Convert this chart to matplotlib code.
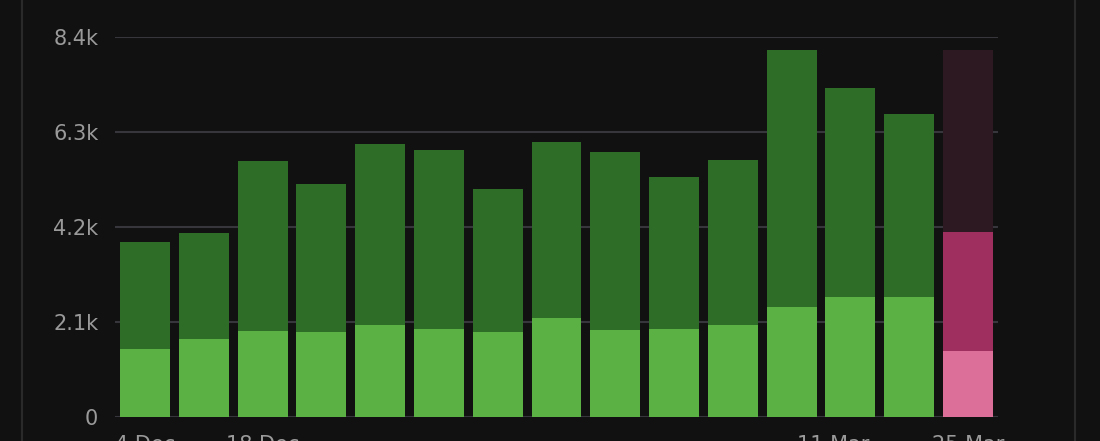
import matplotlib.pyplot as plt
import matplotlib.patches as mpatches

# values in thousands
light = [1.50, 1.72, 1.90, 1.88, 2.03, 1.95, 1.88, 2.19, 1.92, 1.95, 2.03, 2.43, 2.65, 2.65, 1.46]
total = [3.87, 4.07, 5.66, 5.15, 6.03, 5.90, 5.04, 6.08, 5.86, 5.30, 5.68, 8.11, 7.27, 6.70, 8.11]
mid_last = 4.09
tick_pos = [0, 2, 11.7, 14]
tick_labels = ["4 Dec", "18 Dec", "11 Mar", "25 Mar"]
y_ticks = [0, 2.1, 4.2, 6.3, 8.4]
y_labels = ["0", "2.1k", "4.2k", "6.3k", "8.4k"]

bg = "#111111"
fig = plt.figure(figsize=(11, 4.41), dpi=100, facecolor=bg)
ax = fig.add_axes([115 / 1100, 24 / 441, 883 / 1100, 380 / 441], facecolor=bg)

n = len(light)
x = list(range(n))
for i in x:
    if i < n - 1:
        ax.bar(i, light[i], width=0.85, color="#5bb143", zorder=3)
        ax.bar(i, total[i] - light[i], bottom=light[i], width=0.85, color="#2e6d28", zorder=3)
    else:
        ax.bar(i, light[i], width=0.85, color="#dc6f9a", zorder=3)
        ax.bar(i, mid_last - light[i], bottom=light[i], width=0.85, color="#9e2f5f", zorder=3)
        ax.bar(i, total[i] - mid_last, bottom=mid_last, width=0.85, color="#2c1922", zorder=3)

ax.set_xlim(-0.51, n - 0.49)
ax.set_ylim(0, 8.4)
ax.set_yticks(y_ticks)
ax.set_yticklabels(y_labels)
ax.set_xticks(tick_pos)
ax.set_xticklabels(tick_labels)
ax.tick_params(axis="y", length=0, pad=12, labelsize=15, colors="#9a9a9a")
ax.tick_params(axis="x", length=0, pad=13, labelsize=15, colors="#9a9a9a")
ax.grid(axis="y", color="#36363c", linewidth=1.5, zorder=0)
for s in ax.spines.values():
    s.set_visible(False)

# card border
fig.add_artist(mpatches.FancyBboxPatch((22 / 1100, -0.1), 1053 / 1100, 1.3,
                                       boxstyle="round,pad=0,rounding_size=0.02",
                                       transform=fig.transFigure, fill=False,
                                       edgecolor="#2a2a2a", linewidth=1.5))

fig.savefig("out.png", dpi=100, facecolor=bg)
